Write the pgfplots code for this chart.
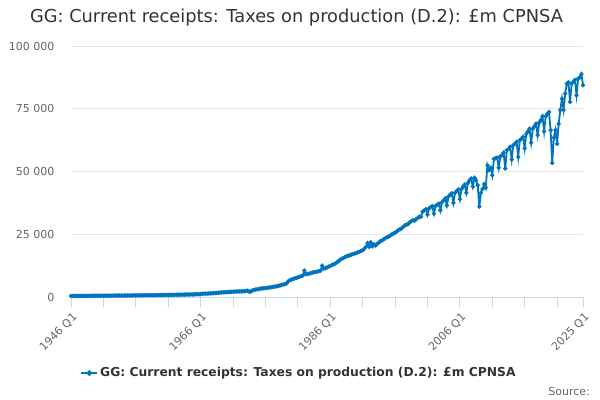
\documentclass[border=0pt]{standalone}
\usepackage{fontspec}
\setmainfont{DejaVu Sans}
\usepackage{pgfplots}
\usepackage{pgfplotstable}
\pgfplotsset{compat=1.18}
\definecolor{ons}{RGB}{0,117,190}
\definecolor{axisc}{RGB}{204,214,235}
\definecolor{gridc}{RGB}{230,230,230}
\definecolor{labc}{RGB}{102,102,102}
\definecolor{titc}{RGB}{51,51,51}
\pgfplotstableread{
yr q v
1946 1 400
1946 2 410
1946 3 420
1946 4 430
1947 1 430
1947 2 440
1947 3 445
1947 4 450
1948 1 455
1948 2 460
1948 3 465
1948 4 470
1949 1 470
1949 2 480
1949 3 485
1949 4 490
1950 1 490
1950 2 500
1950 3 505
1950 4 510
1951 1 510
1951 2 520
1951 3 525
1951 4 530
1952 1 530
1952 2 540
1952 3 545
1952 4 550
1953 1 550
1953 2 560
1953 3 565
1953 4 570
1954 1 575
1954 2 585
1954 3 595
1954 4 600
1955 1 605
1955 2 615
1955 3 625
1955 4 635
1956 1 635
1956 2 645
1956 3 655
1956 4 665
1957 1 665
1957 2 675
1957 3 685
1957 4 695
1958 1 695
1958 2 705
1958 3 715
1958 4 725
1959 1 730
1959 2 745
1959 3 755
1959 4 765
1960 1 770
1960 2 785
1960 3 795
1960 4 810
1961 1 815
1961 2 835
1961 3 850
1961 4 860
1962 1 865
1962 2 885
1962 3 900
1962 4 910
1963 1 915
1963 2 935
1963 3 950
1963 4 965
1964 1 975
1964 2 995
1964 3 1010
1964 4 1030
1965 1 1050
1965 2 1090
1965 3 1110
1965 4 1140
1966 1 1180
1966 2 1250
1966 3 1300
1966 4 1340
1967 1 1380
1967 2 1420
1967 3 1460
1967 4 1500
1968 1 1540
1968 2 1600
1968 3 1660
1968 4 1700
1969 1 1760
1969 2 1820
1969 3 1860
1969 4 1900
1970 1 1930
1970 2 1980
1970 3 2010
1970 4 2050
1971 1 2080
1971 2 2120
1971 3 2160
1971 4 2200
1972 1 2230
1972 2 2280
1972 3 2330
1972 4 2380
1973 1 2420
1973 2 2500
1973 3 2100
1973 4 2200
1974 1 2600
1974 2 2800
1974 3 3000
1974 4 3100
1975 1 3200
1975 2 3350
1975 3 3450
1975 4 3500
1976 1 3550
1976 2 3650
1976 3 3750
1976 4 3850
1977 1 3900
1977 2 4050
1977 3 4150
1977 4 4300
1978 1 4400
1978 2 4600
1978 3 4800
1978 4 4950
1979 1 5100
1979 2 5400
1979 3 6200
1979 4 6700
1980 1 6900
1980 2 7200
1980 3 7400
1980 4 7600
1981 1 7800
1981 2 8100
1981 3 8300
1981 4 8500
1982 1 10500
1982 2 9100
1982 3 9200
1982 4 9300
1983 1 9500
1983 2 9700
1983 3 9900
1983 4 10000
1984 1 10100
1984 2 10300
1984 3 10500
1984 4 12500
1985 1 11300
1985 2 11500
1985 3 11800
1985 4 12100
1986 1 12300
1986 2 12700
1986 3 13000
1986 4 13300
1987 1 13700
1987 2 14200
1987 3 14800
1987 4 15200
1988 1 15500
1988 2 15900
1988 3 16200
1988 4 16400
1989 1 16600
1989 2 16900
1989 3 17100
1989 4 17300
1990 1 17500
1990 2 17800
1990 3 18000
1990 4 18300
1991 1 18600
1991 2 19200
1991 3 20000
1991 4 21500
1992 1 20000
1992 2 21800
1992 3 20200
1992 4 21000
1993 1 20500
1993 2 21200
1993 3 21700
1993 4 22300
1994 1 22500
1994 2 23000
1994 3 23400
1994 4 23800
1995 1 24000
1995 2 24500
1995 3 24900
1995 4 25300
1996 1 25600
1996 2 26100
1996 3 26600
1996 4 27000
1997 1 27300
1997 2 27900
1997 3 28500
1997 4 28800
1998 1 29000
1998 2 29700
1998 3 30200
1998 4 30600
1999 1 30400
1999 2 31000
1999 3 31500
1999 4 32000
2000 1 32000
2000 2 34000
2000 3 34500
2000 4 35000
2001 1 32800
2001 2 35300
2001 3 35800
2001 4 36200
2002 1 33200
2002 2 36300
2002 3 36700
2002 4 37200
2003 1 34500
2003 2 37800
2003 3 38500
2003 4 39300
2004 1 36500
2004 2 40000
2004 3 40800
2004 4 41300
2005 1 37500
2005 2 41500
2005 3 42200
2005 4 42800
2006 1 39000
2006 2 43000
2006 3 44000
2006 4 44800
2007 1 41500
2007 2 45500
2007 3 46500
2007 4 47200
2008 1 44000
2008 2 47500
2008 3 46500
2008 4 44500
2009 1 36000
2009 2 41500
2009 3 43000
2009 4 45000
2010 1 43500
2010 2 52500
2010 3 50500
2010 4 51500
2011 1 48500
2011 2 55000
2011 3 55300
2011 4 55500
2012 1 51500
2012 2 56000
2012 3 56500
2012 4 57500
2013 1 51200
2013 2 58500
2013 3 59000
2013 4 59800
2014 1 54800
2014 2 60500
2014 3 61000
2014 4 61800
2015 1 55800
2015 2 62500
2015 3 63000
2015 4 63800
2016 1 59200
2016 2 65000
2016 3 66000
2016 4 67000
2017 1 61500
2017 2 67000
2017 3 68000
2017 4 69000
2018 1 64500
2018 2 69500
2018 3 70500
2018 4 72000
2019 1 66000
2019 2 72000
2019 3 73000
2019 4 73700
2020 1 66500
2020 2 53400
2020 3 63500
2020 4 66500
2021 1 61000
2021 2 69000
2021 3 74500
2021 4 79000
2022 1 74500
2022 2 81000
2022 3 85000
2022 4 85500
2023 1 77700
2023 2 85000
2023 3 85700
2023 4 86500
2024 1 80400
2024 2 87000
2024 3 87500
2024 4 88800
2025 1 84400
}\datatable
\begin{document}
\begin{tikzpicture}
\path[use as bounding box, fill=white] (0,0) rectangle (600bp,400bp);
\begin{axis}[
  at={(71bp,103bp)}, anchor=south west,
  scale only axis, width=512bp, height=251bp,
  xmin=0, xmax=316, ymin=0, ymax=100000,
  clip=false,
  scaled y ticks=false,
  axis x line=bottom, axis y line=left,
  axis line style={-},
  x axis line style={draw=axisc, line width=1bp},
  y axis line style={draw=none},
  ytick={0,25000,50000,75000,100000},
  yticklabels={0,25 000,50 000,75 000,100 000},
  xtick={0,80,160,240,316},
  xticklabels={1946 Q1,1966 Q1,1986 Q1,2006 Q1,2025 Q1},
  minor xtick={20,40,60,100,120,140,180,200,220,260,280,300},
  ymajorgrids,
  grid style={draw=gridc, line width=0.8bp},
  tick align=outside,
  x tick style={draw=axisc, line width=1bp},
  minor x tick style={draw=axisc, line width=1bp},
  y tick style={draw=none},
  major tick length=10bp,
  minor tick length=10bp,
  yticklabel style={font=\fontsize{11bp}{13bp}\selectfont, text=labc, xshift=-3bp},
  xticklabel style={font=\fontsize{11bp}{13bp}\selectfont, text=labc, rotate=45, anchor=north east, inner sep=1bp, xshift=-2bp, yshift=-3bp},
  legend style={at={(0.4453,-0.303)}, anchor=center, draw=none, fill=none,
    font=\fontsize{12.3bp}{15bp}\selectfont\bfseries, text=titc},
  legend image code/.code={\draw[ons, line width=1.8bp] (0bp,0bp) -- (16bp,0bp); \fill[ons] (8bp,0bp) circle (1.8bp);},
]
\addplot[color=ons, line width=1.8bp, mark=*, mark size=1.1bp, mark options={fill=ons, draw=ons}]
  table[x expr={(\thisrow{yr}-1946)*4+\thisrow{q}-1}, y=v] {\datatable};
\addlegendentry{GG: Current receipts: Taxes on production (D.2): £m CPNSA}
\end{axis}
\node[font=\fontsize{17.8bp}{21bp}\selectfont, text=titc] at (296.5bp,382bp) {GG: Current receipts: Taxes on production (D.2): £m CPNSA};
\node[anchor=base east, font=\fontsize{11bp}{13bp}\selectfont, text=labc, inner sep=0pt] at (590bp,5bp) {Source:};
\end{tikzpicture}
\end{document}
